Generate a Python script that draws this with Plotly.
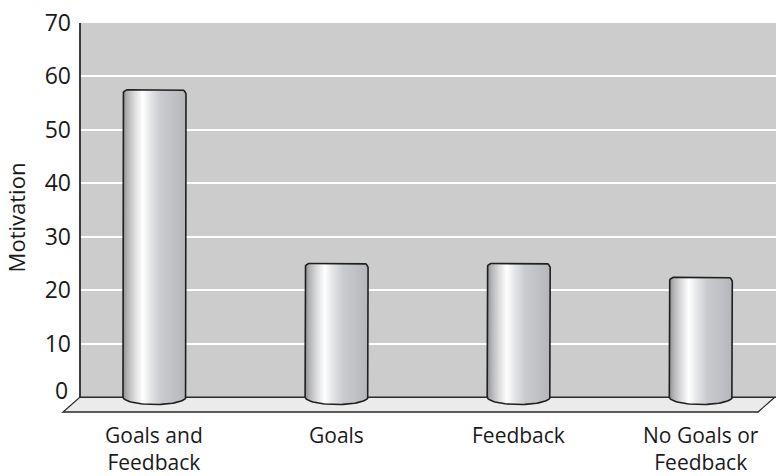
import numpy as np
import plotly.graph_objects as go

# ---- data ----
categories = ["Goals and<br>Feedback", "Goals", "Feedback", "No Goals or<br>Feedback"]
motivation = [57.5, 25.0, 25.0, 22.4]
y_tick_values = [10, 20, 30, 40, 50, 60, 70]
y_tick_labels = ["10", "20", "30", "40", "50", "60", "70"]
zero_label = "0"
y_title = "Motivation"

# ---- layout constants ----
W, H = 776, 476
ML, MR, MT, MB = 80, 0, 23, 64
Y_MIN, Y_MAX = -2.8, 70
X_MIN, X_MAX = -0.409, 3.413
plot_w = W - ML - MR
plot_h = H - MT - MB
px_per_x = plot_w / (X_MAX - X_MIN)
px_per_y = plot_h / (Y_MAX - Y_MIN)

FONT = "Open Sans"
TXT = "#1a1a1a"

bar_w = 63 / px_per_x
corner_rx = 4.5 / px_per_x
corner_ry = 4.5 / px_per_y
bottom_depth = 7.5 / px_per_y

grad = [[0.0, "#8c8e91"], [0.07, "#b3b4b6"], [0.18, "#dadadb"],
        [0.31, "#ffffff"], [0.44, "#e4e5e7"], [0.6, "#cacbce"],
        [0.8, "#bfc1c5"], [1.0, "#b4b6ba"]]

fig = go.Figure()

for i, v in enumerate(motivation):
    hw = bar_w / 2
    xs, ys = [], []
    xs += [i - hw, i - hw]
    ys += [0, v - corner_ry]
    for t in np.linspace(np.pi, np.pi / 2, 8):
        xs.append(i - hw + corner_rx + corner_rx * np.cos(t))
        ys.append(v - corner_ry + corner_ry * np.sin(t))
    for t in np.linspace(np.pi / 2, 0, 8):
        xs.append(i + hw - corner_rx + corner_rx * np.cos(t))
        ys.append(v - corner_ry + corner_ry * np.sin(t))
    xs.append(i + hw)
    ys.append(0)
    for t in np.linspace(0, np.pi, 40):
        xs.append(i + hw * np.cos(t))
        ys.append(-bottom_depth * np.sin(t))
    xs.append(xs[0])
    ys.append(ys[0])
    fig.add_trace(go.Scatter(
        x=xs, y=ys, mode="lines", fill="toself",
        fillgradient=dict(type="horizontal", colorscale=grad),
        line=dict(color="#1f1f1f", width=1.6),
        hoverinfo="skip", showlegend=False,
    ))


def ypaper(v):
    return (v - Y_MIN) / (Y_MAX - Y_MIN)


floor_top = ypaper(0)
floor_dx = 17 / plot_w
floor_right = 0.9986

shapes = [
    dict(type="rect", xref="paper", yref="paper", x0=0, x1=1, y0=floor_top, y1=1,
         fillcolor="#cccccc", line=dict(width=0), layer="below"),
    dict(type="path", xref="paper", yref="paper",
         path=f"M 0 {floor_top} L {floor_right} {floor_top} L {floor_right - floor_dx} 0 L {-floor_dx} 0 Z",
         fillcolor="#ebebeb", line=dict(color="#2a2a2a", width=1.3), layer="below"),
    dict(type="line", xref="paper", yref="paper", x0=0, x1=0, y0=floor_top, y1=1,
         line=dict(color="#2a2a2a", width=1.8), layer="above"),
]

annotations = [dict(text=zero_label, xref="paper", yref="y", x=0, y=0,
                    xanchor="right", yanchor="middle", showarrow=False,
                    xshift=-10, yshift=7, font=dict(size=23, family=FONT, color=TXT))]
for i, cat in enumerate(categories):
    annotations.append(dict(text=cat, xref="x", yref="paper", x=i, y=0,
                            xanchor="center", yanchor="top", showarrow=False,
                            yshift=-8, borderpad=0, align="center",
                            font=dict(size=21, family=FONT, color=TXT)))

fig.update_layout(
    width=W, height=H, autosize=False,
    margin=dict(l=ML, r=MR, t=MT, b=MB, pad=0, autoexpand=False),
    paper_bgcolor="white", plot_bgcolor="rgba(0,0,0,0)",
    font=dict(family=FONT, color=TXT, size=22),
    shapes=shapes,
    showlegend=False,
    xaxis=dict(range=[X_MIN, X_MAX], showticklabels=False, showgrid=False,
               zeroline=False, showline=False, ticks="", automargin=False, fixedrange=True),
    yaxis=dict(range=[Y_MIN, Y_MAX], tickvals=y_tick_values, ticktext=y_tick_labels,
               showgrid=True, gridcolor="white", gridwidth=1.6,
               zeroline=True, zerolinecolor="#2a2a2a", zerolinewidth=1.3,
               showline=False, ticks="", tickfont=dict(size=23, family=FONT, color=TXT),
               ticklabelstandoff=8, automargin=False,
               title=dict(text=y_title, font=dict(size=22, family=FONT, color=TXT), standoff=12),
               fixedrange=True),
    annotations=annotations,
)

fig.write_html("out.html")
